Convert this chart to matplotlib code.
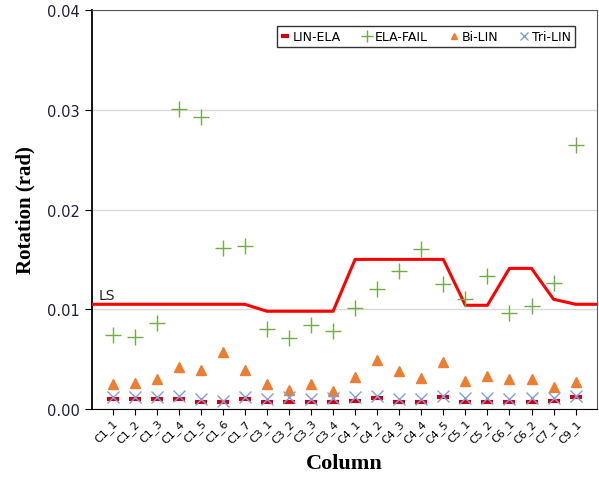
import numpy as np
import matplotlib.pyplot as plt

# Column labels
columns = ['C1_1', 'C1_2', 'C1_3', 'C1_4', 'C1_5', 'C1_6', 'C1_7',
           'C3_1', 'C3_2', 'C3_3', 'C3_4',
           'C4_1', 'C4_2', 'C4_3', 'C4_4', 'C4_5',
           'C5_1', 'C5_2', 'C6_1', 'C6_2', 'C7_1', 'C9_1']

# Rotation values (rad)
lin_ela = [0.0010, 0.0010, 0.0010, 0.0010, 0.0007, 0.0007, 0.0010,
           0.0007, 0.0007, 0.0007, 0.0007,
           0.0008, 0.0011, 0.0007, 0.0007, 0.0012,
           0.0007, 0.0007, 0.0007, 0.0007, 0.0008, 0.0012]
ela_fail = [0.0074, 0.0072, 0.0086, 0.0301, 0.0293, 0.0161, 0.0163,
            0.0080, 0.0071, 0.0084, 0.0078,
            0.0101, 0.0120, 0.0138, 0.0160, 0.0125,
            0.0110, 0.0133, 0.0096, 0.0103, 0.0126, 0.0265]
bi_lin = [0.0025, 0.0026, 0.0030, 0.0042, 0.0039, 0.0057, 0.0039,
          0.0025, 0.0019, 0.0025, 0.0018,
          0.0032, 0.0049, 0.0038, 0.0031, 0.0047,
          0.0028, 0.0033, 0.0030, 0.0030, 0.0022, 0.0027]
tri_lin = [0.0012, 0.0012, 0.0012, 0.0013, 0.0010, 0.0008, 0.0012,
           0.0010, 0.0012, 0.0010, 0.0011,
           0.0012, 0.0013, 0.0010, 0.0010, 0.0013,
           0.0011, 0.0011, 0.0010, 0.0011, 0.0011, 0.0013]
# Life safety limit
ls_limit = [0.0105, 0.0105, 0.0105, 0.0105, 0.0105, 0.0105, 0.0105,
            0.0098, 0.0098, 0.0098, 0.0098,
            0.0150, 0.0150, 0.0150, 0.0150, 0.0150,
            0.0104, 0.0104, 0.0141, 0.0141, 0.0110, 0.0105]

x = np.arange(len(columns))
x_lo, x_hi = -0.93, len(columns) - 0.03

fig = plt.figure(figsize=(5.99, 4.85), dpi=100)
ax = fig.add_axes([0.1536, 0.1546, 0.8431, 0.8227])

# LS line runs edge to edge
ls_x = np.concatenate([[x_lo], x, [x_hi]])
ls_y = np.concatenate([[ls_limit[0]], ls_limit, [ls_limit[-1]]])
ax.plot(ls_x, ls_y, color='#FF0000', lw=2.2, zorder=3)

ax.plot(x, lin_ela, ls='none', marker='_', ms=9, mew=3, color='#D00010',
        label='LIN-ELA', zorder=4)
ax.plot(x, ela_fail, ls='none', marker='+', ms=12, mew=1.0, color='#70AD47',
        label='ELA-FAIL', zorder=4)
ax.plot(x, bi_lin, ls='none', marker='^', ms=7, color='#ED7D31', mec='#ED7D31',
        label='Bi-LIN', zorder=4)
ax.plot(x, tri_lin, ls='none', marker='x', ms=8, mew=1.0, color='#7F9FDB',
        label='Tri-LIN', zorder=4)

ax.text(x_lo + 0.3, ls_limit[0] + 0.0002, 'LS', fontsize=10, color='#222222',
        va='bottom', ha='left')

ax.set_xlim(x_lo, x_hi)
ax.set_ylim(0, 0.04)
ax.set_yticks([0, 0.01, 0.02, 0.03, 0.04])
ax.set_yticklabels(['0.00', '0.01', '0.02', '0.03', '0.04'], fontsize=10.5,
                   color='#1F1F3F')
ax.set_xticks(x)
ax.set_xticklabels(columns, rotation=45, ha='right', rotation_mode='anchor',
                   fontsize=8)
ax.tick_params(axis='x', length=4, pad=2)
ax.tick_params(axis='y', length=5, pad=4)
ax.grid(axis='y', color='#D9D9D9', lw=1)
ax.set_axisbelow(True)

for s in ['top', 'right']:
    ax.spines[s].set_color('#595959')
ax.spines['left'].set_color('black')
ax.spines['bottom'].set_color('black')
ax.spines['left'].set_linewidth(1.3)

ax.set_ylabel('Rotation (rad)', fontsize=15, fontweight='bold',
              family='Liberation Serif', labelpad=8)
ax.set_xlabel('Column', fontsize=16, fontweight='bold',
              family='Liberation Serif', labelpad=6)

leg = ax.legend(loc='upper right', ncol=4, bbox_to_anchor=(0.968, 0.975),
                fontsize=9, frameon=True, fancybox=False, handlelength=0.8,
                handletextpad=0.2, columnspacing=1.7, borderpad=0.3,
                markerscale=0.7)
leg.get_frame().set_edgecolor('black')
leg.get_frame().set_linewidth(1)

plt.savefig('out.png', dpi=100)
